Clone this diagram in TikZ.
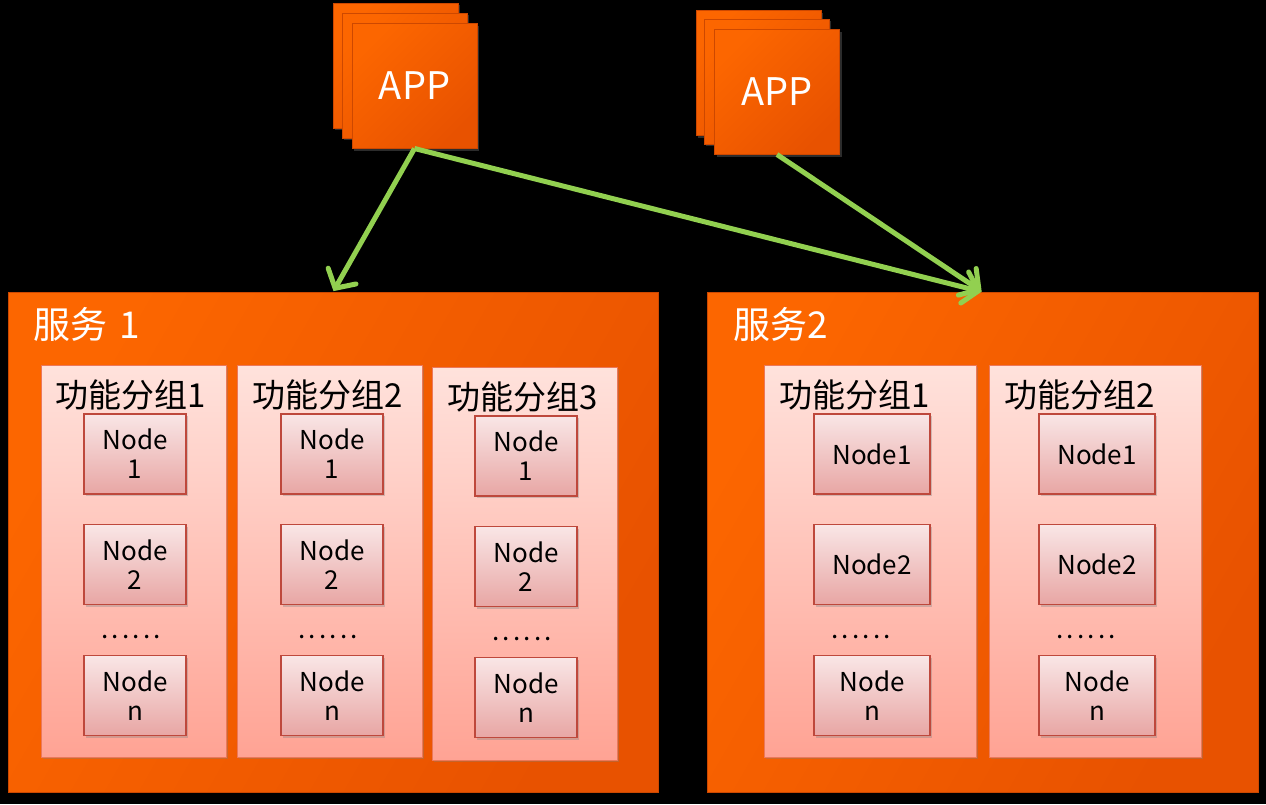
\documentclass[tikz,border=0pt]{standalone}
\usepackage{fontspec}
\newfontfamily\cjk{Noto Sans CJK SC}
\usetikzlibrary{arrows.meta,shadows}
\definecolor{bg}{RGB}{0,0,0}
\definecolor{orA}{RGB}{252,102,0}
\definecolor{orB}{RGB}{232,82,0}
\definecolor{orEdge}{RGB}{205,72,0}
\definecolor{grpTop}{RGB}{255,226,220}
\definecolor{grpBot}{RGB}{255,163,148}
\definecolor{grpEdge}{RGB}{236,120,90}
\definecolor{ndTop}{RGB}{249,230,230}
\definecolor{ndBot}{RGB}{232,166,164}
\definecolor{ndEdge}{RGB}{190,72,60}
\definecolor{arr}{RGB}{146,208,80}
\newcommand{\sixdots}{.\hspace{3.2pt}.\hspace{3.2pt}.\hspace{3.2pt}.\hspace{3.2pt}.\hspace{3.2pt}.}
\tikzset{
  base/.style={rectangle, inner sep=0pt, outer sep=0pt, font=\cjk},
  appbox/.style={base, minimum width=125pt, minimum height=125pt, draw=orEdge, line width=1pt,
    left color=orA, right color=orB, shading angle=45,
    drop shadow={opacity=0.35, shadow xshift=2pt, shadow yshift=-2pt},
    text=white, font=\cjk\fontsize{38}{42}\selectfont},
  svc/.style={base, minimum width=650pt, minimum height=500pt, draw=orEdge, line width=1pt,
    left color=orA, right color=orB, shading angle=60},
  svclabel/.style={base, anchor=west, text=white, font=\cjk\fontsize{37}{40}\selectfont},
  grp/.style={base, minimum height=392pt, draw=grpEdge, line width=0.8pt,
    top color=grpTop, bottom color=grpBot,
    drop shadow={opacity=0.35, shadow xshift=2pt, shadow yshift=-2pt}},
  grplabel/.style={base, text=black, font=\cjk\fontsize{33}{36}\selectfont},
  nodebox/.style={base, minimum height=80pt, draw=ndEdge, line width=1.2pt,
    top color=ndTop, bottom color=ndBot, align=center,
    drop shadow={opacity=0.35, shadow xshift=2pt, shadow yshift=-2pt},
    text=black, font=\cjk\fontsize{26}{29}\selectfont},
  dots/.style={base, text=black, font=\cjk\fontsize{26}{30}\selectfont},
  conn/.style={draw=arr, line width=5pt, -{Straight Barb[length=14pt,width=32pt,line cap=round]}, shorten >=1pt},
}
\begin{document}
\begin{tikzpicture}[x=1pt,y=-1pt]
\fill[bg] (0,0) rectangle (1266,804);
\useasboundingbox (0,0) rectangle (1266,804);

% APP stacks
\node[appbox] (app1c) at (395.5,65.5) {};
\node[appbox] (app1b) at (404.5,75.5) {};
\node[appbox] (app1) at (414.5,86) {APP};
\node[appbox] (app2c) at (758.5,73) {};
\node[appbox] (app2b) at (766.5,81.5) {};
\node[appbox] (app2) at (777,92) {APP};

% services
\node[svc] (s1) at (333,542) {};
\node[svclabel] (s1l) at (33,324) {服务\hspace{4pt} 1};
\node[svc, minimum width=551pt] (s2) at (982.5,542) {};
\node[svclabel] (s2l) at (733,324) {服务2};

% service 1 groups
\node[grp, minimum width=185pt] (g11) at (133.5,561) {};
\node[grplabel] (g11l) at (131,395) {功能分组1};
\node[grp, minimum width=185pt] (g12) at (329.5,561) {};
\node[grplabel] (g12l) at (328,395) {功能分组2};
\node[grp, minimum width=185pt, minimum height=393pt] (g13) at (524.5,563.5) {};
\node[grplabel] (g13l) at (523,397) {功能分组3};

% service 2 groups
\node[grp, minimum width=212pt] (g21) at (870,561) {};
\node[grplabel] (g21l) at (855,395) {功能分组1};
\node[grp, minimum width=212pt] (g22) at (1095,561) {};
\node[grplabel] (g22l) at (1080,395) {功能分组2};

% nodes service 1
\node[nodebox, minimum width=102pt] (n111) at (135,454) {Node\\1};
\node[nodebox, minimum width=102pt] (n112) at (135,564.5) {Node\\2};
\node[dots] (d11) at (131,637) {\sixdots};
\node[nodebox, minimum width=102pt] (n11n) at (135,695.5) {Node\\n};

\node[nodebox, minimum width=102pt] (n121) at (332,454) {Node\\1};
\node[nodebox, minimum width=102pt] (n122) at (332,564.5) {Node\\2};
\node[dots] (d12) at (328,637) {\sixdots};
\node[nodebox, minimum width=102pt] (n12n) at (332,695.5) {Node\\n};

\node[nodebox, minimum width=102pt] (n131) at (526,456) {Node\\1};
\node[nodebox, minimum width=102pt] (n132) at (526,566.5) {Node\\2};
\node[dots] (d13) at (522,639) {\sixdots};
\node[nodebox, minimum width=102pt] (n13n) at (526,697.5) {Node\\n};

% nodes service 2
\node[nodebox, minimum width=116pt] (n211) at (872,454) {Node1};
\node[nodebox, minimum width=116pt] (n212) at (872,564.5) {Node2};
\node[dots] (d21) at (861,637) {\sixdots};
\node[nodebox, minimum width=116pt] (n21n) at (872,695.5) {Node\\n};

\node[nodebox, minimum width=116pt] (n221) at (1097,454) {Node1};
\node[nodebox, minimum width=116pt] (n222) at (1097,564.5) {Node2};
\node[dots] (d22) at (1086,637) {\sixdots};
\node[nodebox, minimum width=116pt] (n22n) at (1097,695.5) {Node\\n};

% connectors
\draw[conn] (app1.south) -- (s1.north);
\draw[conn] (app1.south) -- (s2.north);
\draw[conn] (app2.south) -- (s2.north);
\end{tikzpicture}
\end{document}
